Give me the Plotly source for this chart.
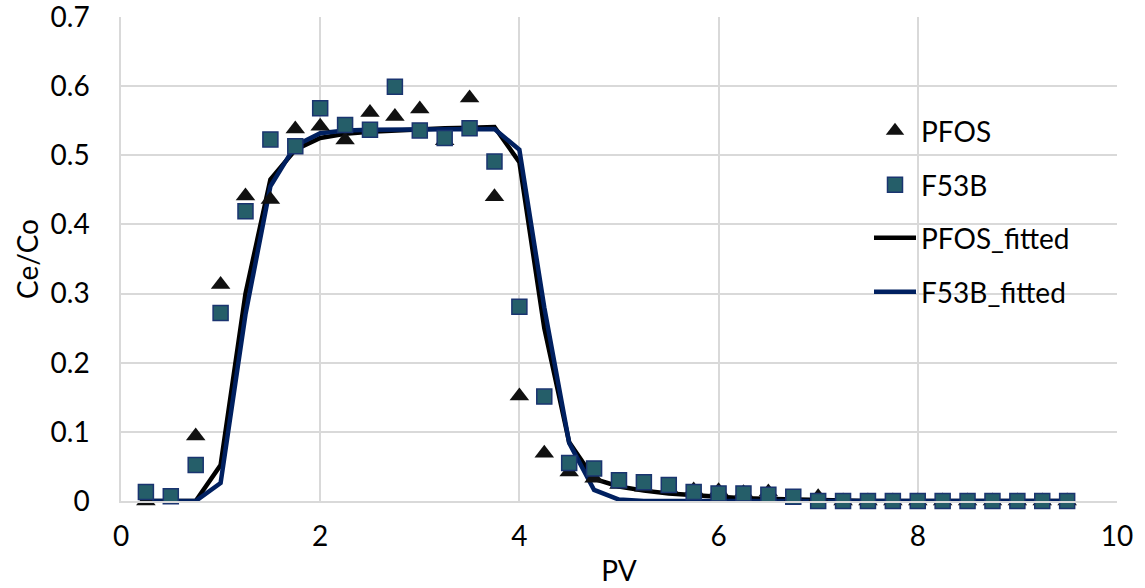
import plotly.graph_objects as go

pv = [0.25, 0.5, 0.75, 1.0, 1.25, 1.5, 1.75, 2.0, 2.25, 2.5, 2.75, 3.0, 3.25, 3.5,
      3.75, 4.0, 4.25, 4.5, 4.75, 5.0, 5.25, 5.5, 5.75, 6.0, 6.25, 6.5, 6.75, 7.0,
      7.25, 7.5, 7.75, 8.0, 8.25, 8.5, 8.75, 9.0, 9.25, 9.5]

pfos = [0.0, 0.004, 0.094, 0.313, 0.441, 0.436, 0.538, 0.542, 0.522, 0.562, 0.556,
        0.567, 0.521, 0.583, 0.440, 0.152, 0.069, 0.042, 0.033, 0.024, 0.020, 0.018,
        0.016, 0.015, 0.012, 0.013, 0.005, 0.006, 0.0, 0.0, 0.0, 0.0, 0.0, 0.0, 0.0,
        0.0, 0.0, 0.0]

f53b = [0.013, 0.007, 0.052, 0.272, 0.419, 0.523, 0.513, 0.568, 0.544, 0.537, 0.599,
        0.536, 0.525, 0.539, 0.491, 0.281, 0.151, 0.055, 0.047, 0.030, 0.027, 0.023,
        0.013, 0.011, 0.011, 0.009, 0.006, 0.0, 0.0, 0.0, 0.0, 0.0, 0.0, 0.0, 0.0,
        0.0, 0.0, 0.0]

pfos_fit = [0.0, 0.0, 0.0, 0.052, 0.300, 0.465, 0.508, 0.525, 0.531, 0.534, 0.536,
            0.538, 0.539, 0.540, 0.541, 0.490, 0.250, 0.085, 0.032, 0.021, 0.015,
            0.011, 0.008, 0.006, 0.004, 0.003, 0.002, 0.001, 0.0, 0.0, 0.0, 0.0, 0.0,
            0.0, 0.0, 0.0, 0.0, 0.0]

f53b_fit = [0.0, 0.0, 0.0, 0.026, 0.270, 0.455, 0.514, 0.532, 0.536, 0.537, 0.537,
            0.537, 0.538, 0.538, 0.538, 0.508, 0.280, 0.084, 0.016, 0.002, 0.0, 0.0,
            0.0, 0.0, 0.0, 0.0, 0.0, 0.0, 0.0, 0.0, 0.0, 0.0, 0.0, 0.0, 0.0, 0.0,
            0.0, 0.0]

y_ticks = [0, 0.1, 0.2, 0.3, 0.4, 0.5, 0.6, 0.7]
y_tick_text = ["0", "0.1", "0.2", "0.3", "0.4", "0.5", "0.6", "0.7"]
x_ticks = [0, 2, 4, 6, 8, 10]

FONT = "Lato"
FS = 28
GRID = "#d9d9d9"

fig = go.Figure()

fig.add_trace(go.Scatter(
    x=pv, y=pfos_fit, mode="lines", name="PFOS_fitted",
    line=dict(color="#000000", width=4.5), legend="legend3", cliponaxis=False))
fig.add_trace(go.Scatter(
    x=pv, y=f53b_fit, mode="lines", name="F53B_fitted",
    line=dict(color="#002060", width=4.5), legend="legend4", cliponaxis=False))
fig.add_trace(go.Scatter(
    x=pv, y=pfos, mode="markers", name="PFOS",
    marker=dict(symbol="triangle-up", size=17, color="#111111"),
    legend="legend", cliponaxis=False))
fig.add_trace(go.Scatter(
    x=pv, y=f53b, mode="markers", name="F53B",
    marker=dict(symbol="square", size=15, color="#255e69",
                line=dict(color="#1a3470", width=1.5)),
    legend="legend2", cliponaxis=False))

L, R, T, B = 121, 28, 17, 87
W, H = 1145, 588
ph = H - T - B
pw = W - L - R


def ly(pix):
    return (H - B - pix) / ph


lx = (869 - L) / pw
leg = dict(x=lx, xanchor="left", yanchor="middle", bgcolor="rgba(0,0,0,0)",
           font=dict(family=FONT, size=FS, color="#000000"), borderwidth=0,
           itemwidth=42)

fig.update_layout(
    width=W, height=H,
    margin=dict(l=L, r=R, t=T, b=B, autoexpand=False),
    paper_bgcolor="white", plot_bgcolor="white",
    font=dict(family=FONT, size=FS, color="#000000"),
    showlegend=True,
    legend=dict(leg, y=ly(131)),
    legend2=dict(leg, y=ly(185)),
    legend3=dict(leg, y=ly(238)),
    legend4=dict(leg, y=ly(292)),
    xaxis=dict(
        range=[0, 10.0005], tickmode="array", tickvals=x_ticks,
        showgrid=True, gridcolor=GRID, gridwidth=1.5,
        zeroline=False, showline=True, linecolor=GRID, linewidth=1.5,
        ticks="", ticklabelstandoff=10, automargin=False,
        ticklabeloverflow="allow",
        title=dict(text="PV", font=dict(family=FONT, size=FS), standoff=10),
    ),
    yaxis=dict(
        range=[0, 0.70005], tickmode="array", tickvals=y_ticks, ticktext=y_tick_text,
        showgrid=True, gridcolor=GRID, gridwidth=1.5,
        zeroline=False, showline=True, linecolor=GRID, linewidth=1.5,
        ticks="", ticklabelstandoff=24, automargin=False,
        ticklabeloverflow="allow",
        title=dict(text="Ce/Co", font=dict(family=FONT, size=FS), standoff=4),
    ),
)

fig.write_html("out.html")
